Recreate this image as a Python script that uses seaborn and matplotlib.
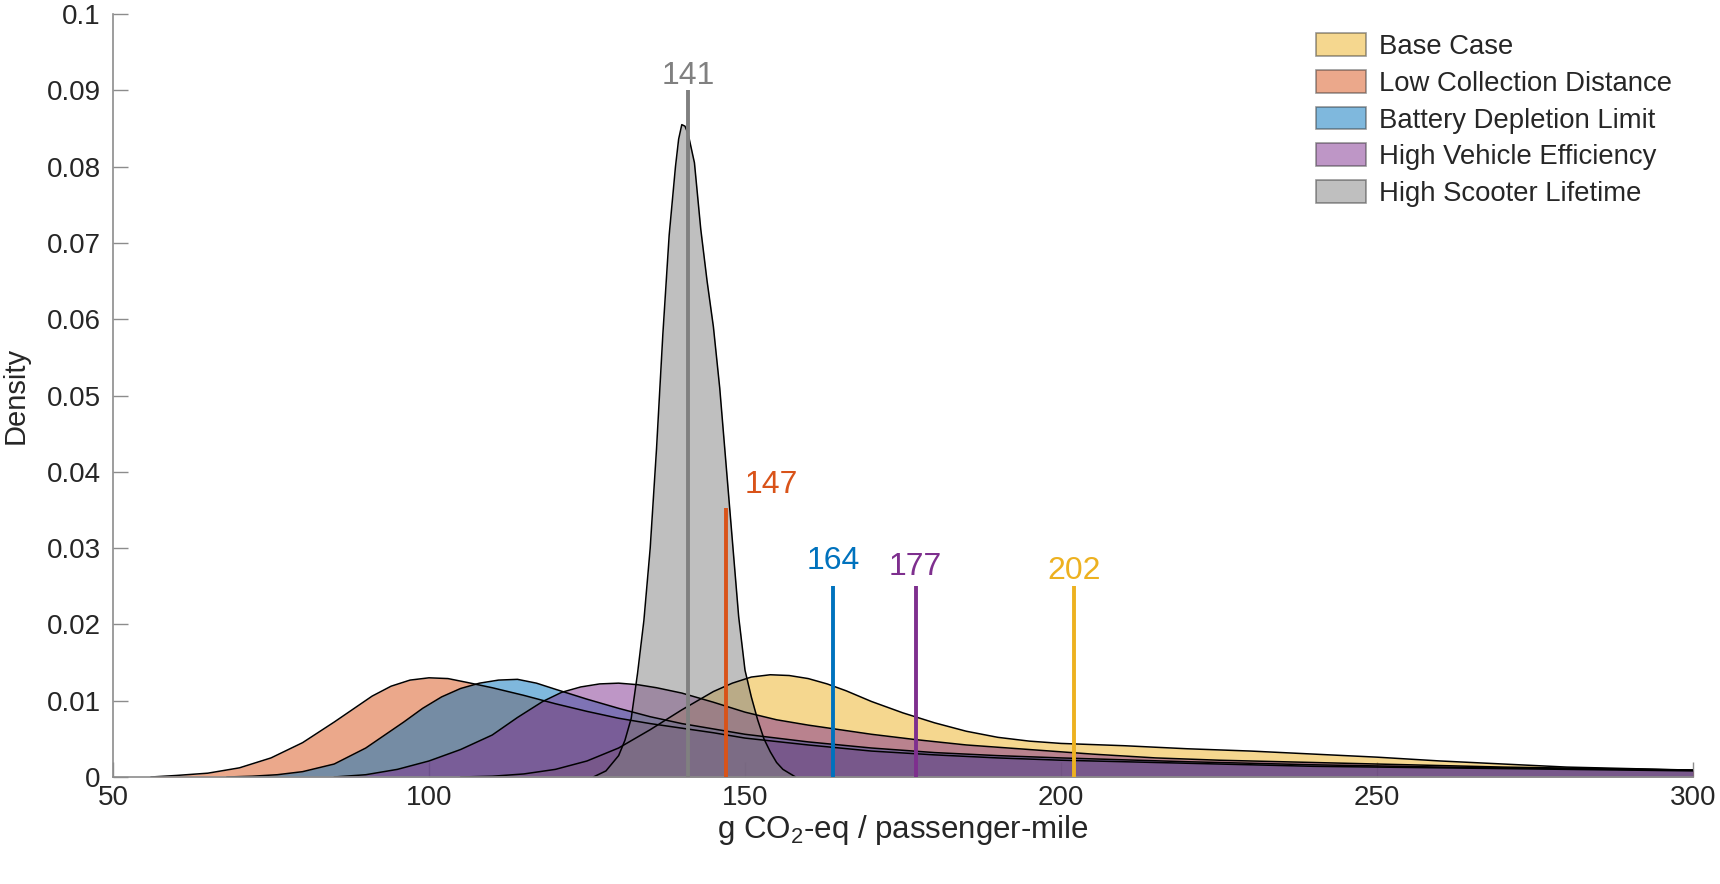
import matplotlib
matplotlib.use("Agg")
import matplotlib.pyplot as plt
from matplotlib.patches import Patch
import pandas as pd
import seaborn as sns

# density curves (x in g CO2-eq / passenger-mile)
base_x = [105, 110, 115, 120, 125, 130, 135, 140, 145, 148, 151, 154, 157, 160, 163, 166,
          170, 175, 180, 185, 190, 195, 200, 210, 220, 230, 240, 250, 260, 270, 280, 290, 300]
base_y = [0.0, 0.0001, 0.0004, 0.0010, 0.0021, 0.0038, 0.0062, 0.0088, 0.0112, 0.0123,
          0.0131, 0.0134, 0.0133, 0.0129, 0.0122, 0.0113, 0.0099, 0.0084, 0.0071, 0.0060,
          0.0052, 0.0047, 0.0044, 0.0041, 0.0037, 0.0034, 0.0030, 0.0026, 0.0021, 0.0017,
          0.0013, 0.0011, 0.0009]

lowcol_x = [56, 60, 65, 70, 75, 80, 85, 88, 91, 94, 97, 100, 103, 106, 110, 115, 120, 125,
            130, 135, 140, 145, 150, 160, 170, 180, 190, 200, 220, 240, 260, 280, 300]
lowcol_y = [0.0, 0.0002, 0.0005, 0.0012, 0.0025, 0.0045, 0.0072, 0.0089, 0.0106, 0.0119,
            0.0127, 0.0130, 0.0129, 0.0124, 0.0117, 0.0107, 0.0096, 0.0086, 0.0077, 0.0070,
            0.0064, 0.0058, 0.0051, 0.0042, 0.0034, 0.0029, 0.0025, 0.0022, 0.0018, 0.0014,
            0.0012, 0.0010, 0.0008]

battery_x = [68, 72, 76, 80, 85, 90, 93, 96, 99, 102, 105, 108, 111, 114, 117, 120, 125,
             130, 135, 140, 145, 150, 160, 170, 180, 190, 200, 220, 240, 260, 280, 300]
battery_y = [0.0, 0.0001, 0.0003, 0.0007, 0.0017, 0.0038, 0.0055, 0.0072, 0.0090, 0.0105,
             0.0116, 0.0123, 0.0127, 0.0128, 0.0123, 0.0115, 0.0102, 0.0090, 0.0079, 0.0070,
             0.0063, 0.0056, 0.0046, 0.0038, 0.0032, 0.0028, 0.0025, 0.0020, 0.0016, 0.0013,
             0.0011, 0.0009]

vehicle_x = [85, 90, 95, 100, 105, 110, 114, 118, 121, 124, 127, 130, 133, 136, 140, 145,
             150, 155, 160, 165, 170, 177, 185, 195, 205, 215, 225, 240, 255, 270, 285, 300]
vehicle_y = [0.0, 0.0003, 0.0010, 0.0021, 0.0036, 0.0055, 0.0078, 0.0099, 0.0111, 0.0118,
             0.0122, 0.0123, 0.0121, 0.0117, 0.0110, 0.0098, 0.0085, 0.0075, 0.0068, 0.0062,
             0.0056, 0.0049, 0.0042, 0.0036, 0.0030, 0.0025, 0.0022, 0.0019, 0.0016, 0.0013,
             0.0011, 0.0009]

lifetime_x = [126, 128, 130, 131, 132, 133, 134, 135, 136, 137, 138, 139, 139.5, 140, 140.5,
              141, 142, 143, 144, 145, 146, 147, 148, 149, 150, 151, 152, 153, 154, 155, 156,
              158]
lifetime_y = [0.0, 0.0008, 0.0028, 0.0048, 0.0077, 0.0136, 0.0205, 0.0300, 0.0430, 0.0580,
              0.0710, 0.0800, 0.0836, 0.0855, 0.0853, 0.0843, 0.0805, 0.0718, 0.0650, 0.0590,
              0.0510, 0.0410, 0.0310, 0.0210, 0.0140, 0.0105, 0.0075, 0.0050, 0.0033, 0.0019,
              0.0010, 0.0]

scenarios = ["Base Case", "Low Collection Distance", "Battery Depletion Limit",
             "High Vehicle Efficiency", "High Scooter Lifetime"]
colors = ["#EDB120", "#D95319", "#0072BD", "#7E2F8E", "#808080"]

# mean markers: value, line top, label position
mean_vals = [202, 147, 164, 177, 141]
mean_tops = [0.025, 0.0353, 0.025, 0.025, 0.090]
label_x = [202, 150, 164, 177, 141]
label_y = [0.0260, 0.0372, 0.0272, 0.0265, 0.0908]
label_ha = ["center", "left", "center", "center", "center"]

xticks = [50, 100, 150, 200, 250, 300]
yticks = [0, 0.01, 0.02, 0.03, 0.04, 0.05, 0.06, 0.07, 0.08, 0.09, 0.1]

curves = [(base_x, base_y), (lowcol_x, lowcol_y), (battery_x, battery_y),
          (vehicle_x, vehicle_y), (lifetime_x, lifetime_y)]
df = pd.concat(
    [pd.DataFrame({"scenario": s, "g": cx, "density": cy})
     for s, (cx, cy) in zip(scenarios, curves)],
    ignore_index=True,
)

sns.set_theme(style="ticks")
plt.rcParams["font.family"] = ["Liberation Sans", "DejaVu Sans"]
plt.rcParams["mathtext.default"] = "regular"

fig = plt.figure(figsize=(17.2, 8.84), dpi=100)
ax = fig.add_axes([113 / 1720, 107 / 884, 1580 / 1720, 763 / 884])

for s, c in zip(scenarios, colors):
    sub = df[df["scenario"] == s]
    ax.fill_between(sub["g"], sub["density"], color=c, alpha=0.5, lw=0)
    sns.lineplot(data=sub, x="g", y="density", color="black", lw=1.1, ax=ax,
                 legend=False, estimator=None, sort=False)

ax.vlines(mean_vals, 0, mean_tops, colors=colors, lw=2.8, zorder=5)
for lx, ly, v, c, ha in zip(label_x, label_y, mean_vals, colors, label_ha):
    ax.text(lx, ly, str(v), color=c, fontsize=23, ha=ha, va="baseline", zorder=6)

ax.set_xlim(50, 300)
ax.set_ylim(0, 0.1)
ax.set_xticks(xticks)
ax.set_yticks(yticks)
ax.set_yticklabels(["%g" % t for t in yticks])
ax.tick_params(direction="in", length=11, width=1, color="#8c8c8c",
               labelcolor="#262626", labelsize=20, pad=9)
ax.tick_params(axis="x", pad=6)
for side in ["top", "right"]:
    ax.spines[side].set_visible(False)
for side in ["left", "bottom"]:
    ax.spines[side].set_color("#8c8c8c")
    ax.spines[side].set_linewidth(1.2)

ax.set_xlabel("g CO$_2$-eq / passenger-mile", fontsize=22.5, color="#262626", labelpad=1)
ax.set_ylabel("Density", fontsize=21, color="#262626", labelpad=12)

handles = [Patch(facecolor=c, alpha=0.5, edgecolor="#333333", lw=1.2) for c in colors]
ax.legend(handles, scenarios, loc="upper left", bbox_to_anchor=(1316 / 1720, 1 - 33 / 884),
          bbox_transform=fig.transFigure, frameon=False, fontsize=19.8,
          handlelength=1.8, handleheight=0.9, handletextpad=0.48, labelspacing=0.36,
          borderpad=0, borderaxespad=0)

fig.savefig("out.png", dpi=100)
